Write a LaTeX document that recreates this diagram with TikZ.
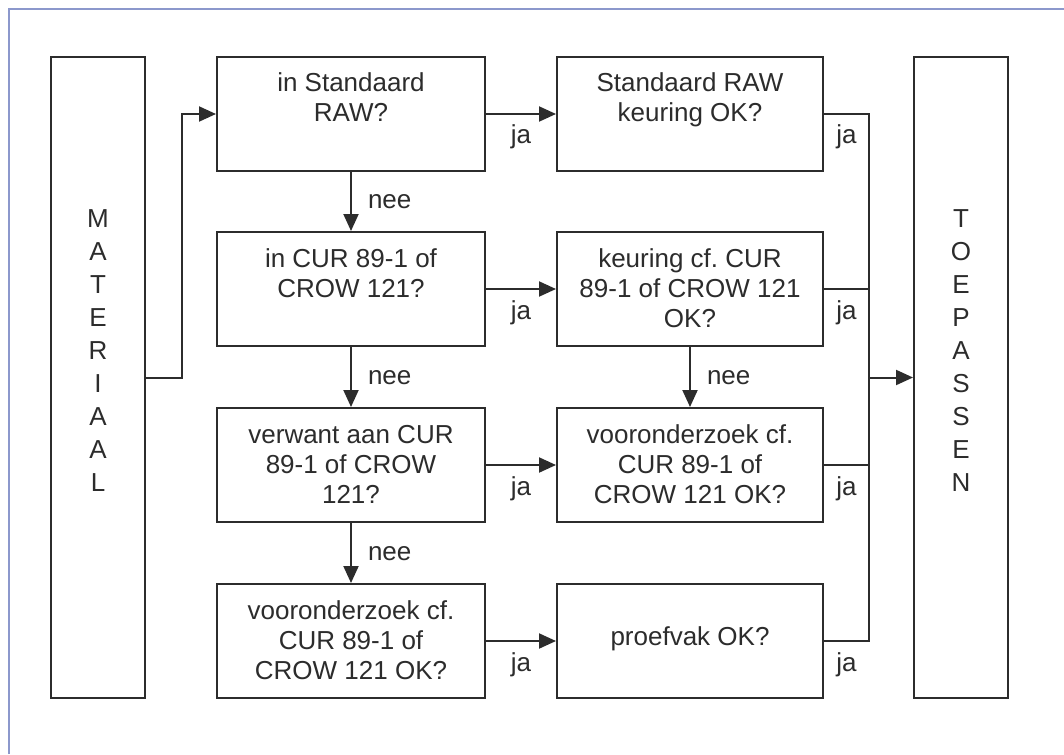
\documentclass[tikz,border=0pt]{standalone}
\usepackage{fontspec}
\setmainfont{Liberation Sans}
\usetikzlibrary{arrows.meta}
\definecolor{ink}{HTML}{2C2C2C}
\definecolor{framec}{HTML}{8C98CC}
\frenchspacing
\newcommand{\bxt}[4]{\parbox[c][#1][t]{#2}{\fontsize{26}{30}\selectfont\centering\vspace*{#3}\strut #4\par}}
\newcommand{\vtxt}[1]{\parbox[c][641pt][t]{94pt}{\fontsize{26}{33}\selectfont\centering\vspace*{147pt}\strut #1\par}}
\begin{document}
\begin{tikzpicture}[x=1pt,y=-1pt,
  box/.style={draw=ink, line width=2pt, inner sep=0pt, text=ink},
  conn/.style={draw=ink, line width=2pt},
  arr/.style={conn, -{Triangle[length=17pt,width=15pt]}},
  lbl/.style={text=ink, font=\fontsize{26}{30}\selectfont, inner sep=0pt},
  jal/.style={lbl, anchor=base, yshift=-30pt},
  neel/.style={lbl, anchor=base west, xshift=16pt, yshift=-7pt}]
\useasboundingbox[fill=white] (0,0) rectangle (1064,754);
\draw[framec, line width=1.2pt] (9,754) -- (9,9) -- (1064,9);
\node[box] (mat) at (98,377.5) {\vtxt{M\\A\\T\\E\\R\\I\\A\\A\\L}};
\node[box] (toe) at (961,377.5) {\vtxt{T\\O\\E\\P\\A\\S\\S\\E\\N}};
\node[box] (b11) at (351,114) {\bxt{114pt}{268pt}{14pt}{in Standaard\\RAW?}};
\node[box] (b12) at (690,114) {\bxt{114pt}{266pt}{14pt}{Standaard RAW\\keuring OK?}};
\node[box] (b21) at (351,289) {\bxt{114pt}{268pt}{14pt}{in CUR 89-1 of\\CROW 121?}};
\node[box] (b22) at (690,289) {\bxt{114pt}{266pt}{14pt}{keuring cf. CUR\\89-1 of CROW 121\\OK?}};
\node[box] (b31) at (351,465) {\bxt{114pt}{268pt}{14pt}{verwant aan CUR\\89-1 of CROW\\121?}};
\node[box] (b32) at (690,465) {\bxt{114pt}{266pt}{14pt}{vooronderzoek cf.\\CUR 89-1 of\\CROW 121 OK?}};
\node[box] (b41) at (351,641) {\bxt{114pt}{268pt}{14pt}{vooronderzoek cf.\\CUR 89-1 of\\CROW 121 OK?}};
\node[box] (b42) at (690,641) {\bxt{114pt}{266pt}{40pt}{proefvak OK?}};
\coordinate (bt) at (869,114);
\coordinate (bb) at (869,641);
% left feed
\draw[arr] (mat.east) -- ++(36,0) |- (b11.west);
% yes arrows
\draw[arr] (b11.east) -- node[jal]{ja} (b12.west);
\draw[arr] (b21.east) -- node[jal]{ja} (b22.west);
\draw[arr] (b31.east) -- node[jal]{ja} (b32.west);
\draw[arr] (b41.east) -- node[jal]{ja} (b42.west);
% no arrows
\draw[arr] (b11.south) -- node[neel]{nee} (b21.north);
\draw[arr] (b21.south) -- node[neel]{nee} (b31.north);
\draw[arr] (b31.south) -- node[neel]{nee} (b41.north);
\draw[arr] (b22.south) -- node[neel]{nee} (b32.north);
% bus
\draw[conn] (b12.east) -- node[jal]{ja} (bt) -- (bb) -- node[jal]{ja} (b42.east);
\draw[conn] (b22.east) -- node[jal]{ja} (b22.east -| bt);
\draw[conn] (b32.east) -- node[jal]{ja} (b32.east -| bt);
\draw[arr] (toe.west -| bt) -- (toe.west);
\end{tikzpicture}
\end{document}
